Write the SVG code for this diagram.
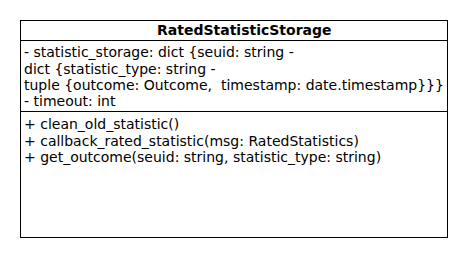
<svg xmlns="http://www.w3.org/2000/svg" width="470" height="260" viewBox="0 0 470 260">
  <style>
    .box { fill: #ffffff; stroke: #000000; stroke-width: 1; }
    .sep { stroke: #000000; stroke-width: 1; }
    .t { font-family: "DejaVu Sans", sans-serif; font-size: 14px; fill: #000000; white-space: pre; }
    .title { font-weight: bold; }
  </style>
  <rect width="470" height="260" fill="#ffffff"/>
  <g id="RatedStatisticStorage">
    <rect class="box" x="20.5" y="20.5" width="427" height="217"/>
    <line class="sep" x1="20.5" y1="40.5" x2="447.5" y2="40.5"/>
    <line class="sep" x1="20.5" y1="111.5" x2="447.5" y2="111.5"/>
    <text class="t title" x="157" y="35">RatedStatisticStorage</text>
    <text class="t" x="24" y="57">- statistic_storage: dict {seuid: string -</text>
    <text class="t" x="24" y="73.5">dict {statistic_type: string -</text>
    <text class="t" x="24" y="90">tuple {outcome: Outcome,  timestamp: date.timestamp}}}</text>
    <text class="t" x="24" y="106">- timeout: int</text>
    <text class="t" x="24" y="129">+ clean_old_statistic()</text>
    <text class="t" x="24" y="145.5">+ callback_rated_statistic(msg: RatedStatistics)</text>
    <text class="t" x="24" y="162">+ get_outcome(seuid: string, statistic_type: string)</text>
  </g>
</svg>
